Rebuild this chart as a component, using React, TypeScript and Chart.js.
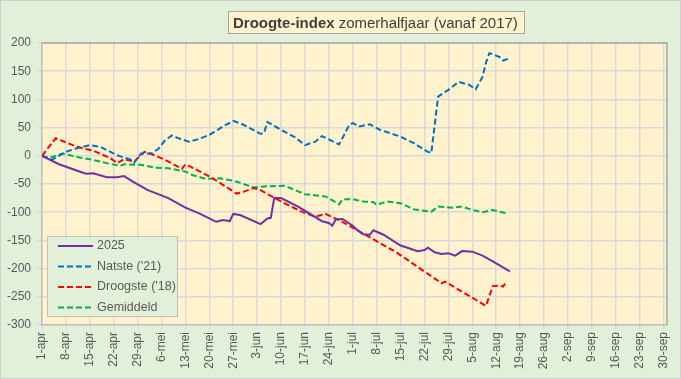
import React, { useEffect, useRef } from 'react';
import { Chart, registerables } from 'chart.js';
Chart.register(...registerables);

const tickLabels = [
  '1-apr', '8-apr', '15-apr', '22-apr', '29-apr', '6-mei', '13-mei', '20-mei', '27-mei',
  '3-jun', '10-jun', '17-jun', '24-jun', '1-jul', '8-jul', '15-jul', '22-jul', '29-jul',
  '5-aug', '12-aug', '19-aug', '26-aug', '2-sep', '9-sep', '16-sep', '23-sep', '30-sep',
];

const seriesNames = ['2025', "Natste ('21)", "Droogste ('18)", 'Gemiddeld'];

// day offsets from 1-apr
const days2025 = [0, 5, 12, 13, 15, 19, 22, 24, 27, 31, 37, 42, 46, 51, 53, 55, 56, 58, 64, 66, 67, 68, 70, 75, 82, 84, 85, 86, 88, 91, 92, 94, 96, 97, 100, 105, 107, 110, 112, 113, 115, 117, 119, 121, 123, 126, 129, 132, 137];
const vals2025 = [0, -15, -30, -32, -31, -38, -38, -36, -47, -61, -75, -92, -102, -117, -114, -116, -103, -105, -121, -111, -110, -75, -75, -90, -116, -119, -124, -113, -112, -124, -130, -139, -140, -132, -140, -159, -163, -169, -167, -163, -171, -174, -173, -177, -169, -170, -177, -187, -205];

const daysWet = [0, 3, 7, 10, 14, 17, 22, 26, 27, 29, 32, 34, 36, 38, 40, 43, 46, 49, 53, 56, 59, 64, 65, 66, 70, 74, 77, 80, 82, 87, 90, 91, 93, 96, 99, 105, 109, 113, 114, 116, 119, 122, 125, 127, 129, 130, 131, 132, 134, 135, 137];
const valsWet = [0, -7, 7, 13, 19, 16, 1, -7, -12, 4, 4, 12, 27, 36, 31, 25, 30, 37, 52, 62, 55, 39, 40, 60, 46, 33, 19, 25, 35, 20, 55, 58, 52, 56, 46, 34, 22, 7, 5, 105, 117, 131, 126, 118, 140, 165, 182, 180, 175, 169, 173];

const daysDry = [0, 4, 9, 12, 15, 20, 22, 24, 27, 30, 33, 36, 41, 42, 46, 50, 57, 59, 62, 64, 70, 76, 80, 83, 87, 90, 104, 117, 118, 130, 132, 134, 135, 136];
const valsDry = [0, 31, 19, 13, 9, -4, -13, -6, -10, 7, 1, -7, -23, -15, -27, -40, -67, -64, -57, -61, -81, -99, -108, -103, -114, -124, -172, -226, -223, -266, -231, -230, -232, -223];

const daysAvg = [0, 2, 6, 11, 14, 19, 23, 24, 29, 33, 37, 42, 44, 48, 52, 56, 62, 66, 71, 77, 83, 87, 88, 91, 94, 97, 98, 101, 105, 109, 114, 116, 120, 123, 126, 129, 132, 136];
const valsAvg = [0, -4, 4, -3, -6, -13, -18, -15, -16, -21, -22, -28, -34, -41, -40, -44, -56, -54, -53, -68, -72, -86, -77, -77, -81, -82, -87, -81, -84, -95, -99, -90, -92, -90, -96, -100, -96, -102];

const FONT = "'Liberation Sans', Arial, sans-serif";
const TXT = '#595959';

const toPts = (d: number[], v: number[]) => d.map((x, i) => ({ x, y: v[i] }));

export default function App() {
  const ref = useRef<HTMLCanvasElement>(null);
  useEffect(() => {
    document.body.style.margin = '0';
    const bgPlugin = {
      id: 'bg',
      beforeDraw(chart: any) {
        const { ctx, chartArea: a, width, height } = chart;
        ctx.save();
        ctx.fillStyle = '#E2F0D9';
        ctx.fillRect(0, 0, width, height);
        ctx.strokeStyle = '#D0D0D0';
        ctx.lineWidth = 1;
        ctx.strokeRect(0.5, 0.5, width - 1, height - 1);
        ctx.fillStyle = '#FFF2CC';
        ctx.fillRect(a.left, a.top, a.right - a.left, a.bottom - a.top);
        ctx.restore();
      },
      afterDatasetsDraw(chart: any) {
        const { ctx, chartArea: a } = chart;
        ctx.save();
        ctx.strokeStyle = '#A6A6A6';
        ctx.lineWidth = 1.5;
        ctx.beginPath();
        ctx.moveTo(a.left, a.top);
        ctx.lineTo(a.right, a.top);
        ctx.lineTo(a.right, a.bottom);
        ctx.stroke();
        ctx.restore();
      },
    };
    const titlePlugin = {
      id: 'titlebox',
      afterDraw(chart: any) {
        const ctx = chart.ctx;
        ctx.save();
        const boxL = 228, boxT = 11, boxW = 297, boxH = 23;
        ctx.fillStyle = '#FFF2CC';
        ctx.fillRect(boxL, boxT, boxW, boxH);
        ctx.strokeStyle = '#A6A6A6';
        ctx.lineWidth = 1;
        ctx.strokeRect(boxL + 0.5, boxT + 0.5, boxW - 1, boxH - 1);
        const b = 'Droogte-index';
        const n = ' zomerhalfjaar (vanaf 2017)';
        let size = 16;
        ctx.font = `bold ${size}px ${FONT}`;
        let wb = ctx.measureText(b).width;
        ctx.font = `${size}px ${FONT}`;
        let wn = ctx.measureText(n).width;
        size = size * 285 / (wb + wn);
        ctx.font = `bold ${size}px ${FONT}`;
        wb = ctx.measureText(b).width;
        ctx.fillStyle = '#404040';
        ctx.textBaseline = 'middle';
        ctx.fillText(b, 233, boxT + boxH / 2 + 1);
        ctx.font = `${size}px ${FONT}`;
        ctx.fillText(n, 233 + wb, boxT + boxH / 2 + 1);
        ctx.restore();
      },
    };
    const legendPlugin = {
      id: 'legendbox',
      afterDraw(chart: any) {
        const ctx = chart.ctx;
        ctx.save();
        const L = 47, T = 236, W = 131, H = 81;
        ctx.fillStyle = '#E2F0D9';
        ctx.fillRect(L, T, W, H);
        ctx.strokeStyle = '#BFBFBF';
        ctx.lineWidth = 1;
        ctx.strokeRect(L + 0.5, T + 0.5, W - 1, H - 1);
        chart.data.datasets.forEach((ds: any, i: number) => {
          const y = 246 + i * 20.5;
          ctx.strokeStyle = ds.borderColor;
          ctx.lineWidth = 2;
          ctx.setLineDash(ds.borderDash || []);
          ctx.beginPath();
          ctx.moveTo(58, y);
          ctx.lineTo(93, y);
          ctx.stroke();
          ctx.setLineDash([]);
          ctx.fillStyle = TXT;
          ctx.font = `12.5px ${FONT}`;
          ctx.textBaseline = 'middle';
          ctx.fillText(ds.label, 97, y);
        });
        ctx.restore();
      },
    };
    const chart = new Chart(ref.current as HTMLCanvasElement, {
      type: 'line',
      data: {
        datasets: [
          { label: seriesNames[0], data: toPts(days2025, vals2025), borderColor: '#7030A0', borderWidth: 2 },
          { label: seriesNames[1], data: toPts(daysWet, valsWet), borderColor: '#0070C0', borderWidth: 2, borderDash: [6, 3] },
          { label: seriesNames[2], data: toPts(daysDry, valsDry), borderColor: '#FF0000', borderWidth: 2, borderDash: [6, 3] },
          { label: seriesNames[3], data: toPts(daysAvg, valsAvg), borderColor: '#00B050', borderWidth: 2, borderDash: [6, 3] },
        ],
      },
      options: {
        responsive: false,
        animation: false,
        layout: { padding: { left: 0, right: 9, top: 43, bottom: 0 } },
        plugins: { legend: { display: false }, title: { display: false }, tooltip: { enabled: false } },
        elements: { point: { radius: 0 }, line: { tension: 0, fill: false } },
        scales: {
          x: {
            type: 'linear',
            min: 0,
            max: 183,
            afterBuildTicks: (s: any) => {
              s.ticks = tickLabels.map((_, i) => ({ value: i * 7 }));
            },
            afterFit: (s: any) => {
              s.height = 54;
            },
            ticks: {
              autoSkip: false,
              maxRotation: 90,
              minRotation: 90,
              padding: 3,
              color: TXT,
              font: { family: FONT, size: 12 },
              callback: (v: any) => tickLabels[Math.round(v / 7)],
            },
            grid: { color: '#D9D9D9', lineWidth: 1.5, tickLength: 4 },
            border: { color: '#BFBFBF', width: 1.5 },
          },
          y: {
            min: -300,
            max: 200,
            afterFit: (s: any) => {
              s.width = 42;
            },
            ticks: {
              stepSize: 50,
              padding: 6,
              color: TXT,
              font: { family: FONT, size: 12 },
            },
            grid: { color: '#D9D9D9', lineWidth: 1.5, tickLength: 5 },
            border: { color: '#BFBFBF', width: 1.5 },
          },
        },
      },
      plugins: [bgPlugin, titlePlugin, legendPlugin],
    } as any);
    return () => chart.destroy();
  }, []);
  return (
    <div style={{ width: 681, height: 379 }}>
      <canvas ref={ref} width={681} height={379} style={{ display: 'block', width: 681, height: 379 }} />
    </div>
  );
}
